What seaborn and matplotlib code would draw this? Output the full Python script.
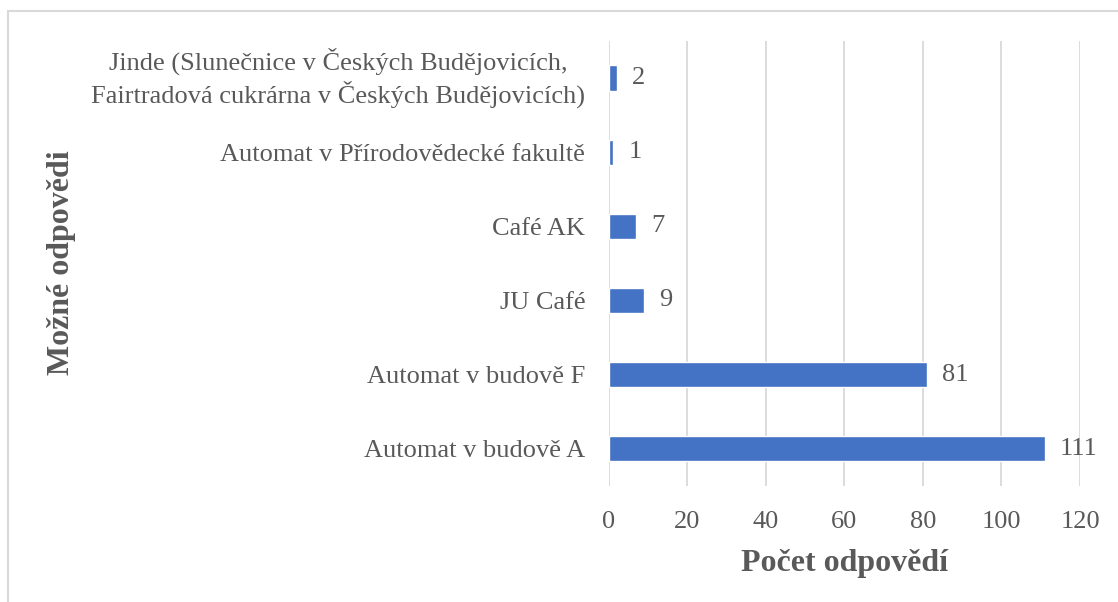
import matplotlib
matplotlib.use("Agg")
import matplotlib.pyplot as plt
import seaborn as sns
import pandas as pd
from matplotlib.patches import Rectangle

# data
odpovedi = [
    "Jinde (Slunečnice v Českých Budějovicích,\nFairtradová cukrárna v Českých Budějovicích)",
    "Automat v Přírodovědecké fakultě",
    "Café AK",
    "JU Café",
    "Automat v budově F",
    "Automat v budově A",
]
pocty = [2, 1, 7, 9, 81, 111]
x_ticks = [0, 20, 40, 60, 80, 100, 120]

df = pd.DataFrame({"odpoved": odpovedi, "pocet": pocty})

sns.set_theme(style="white")
plt.rcParams["font.family"] = ["Liberation Serif", "DejaVu Serif"]

text_col = "#595959"
bar_col = "#4472C4"

fig = plt.figure(figsize=(11.18, 6.02), dpi=100)
ax = fig.add_axes([0.5447, 0.193, 0.966 - 0.5447, 0.932 - 0.193])

sns.barplot(data=df, x="pocet", y="odpoved", color=bar_col, width=0.34,
            saturation=1, ax=ax, zorder=3)

ax.set_xlim(0, 120)
ax.set_xticks(x_ticks)
ax.xaxis.grid(True, color="#D9D9D9", linewidth=1.3, zorder=0)
ax.yaxis.grid(False)
for s in ax.spines.values():
    s.set_visible(False)
ax.tick_params(axis="both", length=0, labelsize=19, labelcolor=text_col)
ax.tick_params(axis="x", pad=18)
ax.tick_params(axis="y", pad=17)
for lab in ax.get_yticklabels():
    lab.set_horizontalalignment("right")
    lab.set_multialignment("center")
    lab.set_linespacing(1.25)
    if "\n" in lab.get_text():
        lab.set_verticalalignment("center")

for cont in ax.containers:
    ax.bar_label(cont, labels=[str(v) for v in pocty], padding=11,
                 fontsize=19, color=text_col)

ax.set_xlabel("Počet odpovědí", fontsize=23, fontweight="bold",
              color=text_col, labelpad=12)
ax.set_ylabel("")
fig.text(62 / 1118, 1 - 263 / 602, "Možné odpovědi", rotation=90,
         fontsize=23, fontweight="bold", color=text_col,
         ha="center", va="center")

# outer frame, cut by the image edge like in the reference
fig.patches.append(Rectangle((8 / 1118, -0.05), 1.1, 1 - 11 / 602 + 0.05,
                             transform=fig.transFigure, fill=False,
                             edgecolor="#D9D9D9", linewidth=1.5))

fig.savefig("out.png", dpi=100, facecolor="white")
